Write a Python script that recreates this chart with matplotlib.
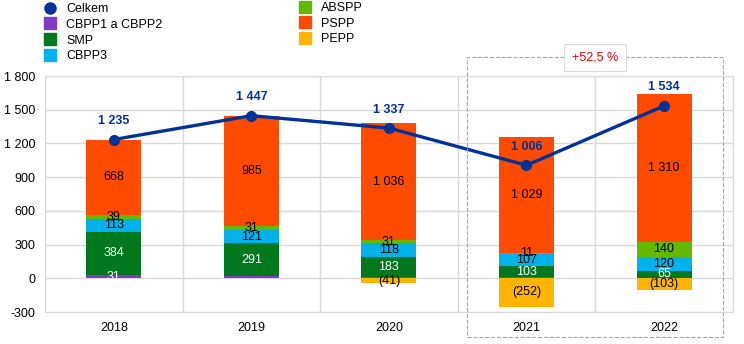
import numpy as np
import matplotlib.pyplot as plt
from matplotlib.lines import Line2D
from matplotlib.patches import Rectangle

plt.rcParams['font.family'] = ['Liberation Sans', 'DejaVu Sans']
plt.rcParams['font.size'] = 9

years = ['2018', '2019', '2020', '2021', '2022']
cbpp12 = [31, 19, 10, 8, 2]
smp = [384, 291, 183, 103, 65]
cbpp3 = [113, 121, 118, 107, 120]
abspp = [39, 31, 31, 11, 140]
pspp = [668, 985, 1036, 1029, 1310]
pepp = [0, 0, -41, -252, -103]
celkem = [1235, 1447, 1337, 1006, 1534]

# which segments get a label
show12 = [True, False, False, False, False]

c_tot = '#003299'
c_12 = '#8139c6'
c_smp = '#00781e'
c_cb3 = '#00b1ea'
c_abs = '#65b800'
c_psp = '#ff4b00'
c_pep = '#ffb400'


def fmt(v):
    s = f'{abs(v):,}'.replace(',', ' ')
    return f'({s})' if v < 0 else s


fig = plt.figure(figsize=(7.44, 3.44), dpi=100)
ax = fig.add_axes([0.0605, 0.093, 0.9245, 0.686])

x = np.arange(len(years))
w = 0.4
series = [(cbpp12, c_12, 'white'), (smp, c_smp, 'white'), (cbpp3, c_cb3, 'black'),
          (abspp, c_abs, 'black'), (pspp, c_psp, 'black')]
bottom = np.zeros(len(years))
for k, (vals, col, tcol) in enumerate(series):
    vals = np.array(vals, dtype=float)
    ax.bar(x, vals, w, bottom=bottom, color=col, zorder=2)
    for i in range(len(years)):
        if k == 0 and not show12[i]:
            continue
        ax.text(x[i], bottom[i] + vals[i] / 2, fmt(int(vals[i])), ha='center', va='center',
                color=tcol, fontsize=9, zorder=4)
    bottom += vals

ax.bar(x, pepp, w, color=c_pep, zorder=2)
for i, v in enumerate(pepp):
    if v < 0:
        ax.text(x[i], v / 2 if v < -60 else -22, fmt(v), ha='center', va='center', fontsize=9, zorder=4)

ax.plot(x, celkem, color=c_tot, lw=2.4, marker='o', ms=7, zorder=5)
for i, v in enumerate(celkem):
    ax.annotate(fmt(v), (x[i], v), xytext=(0, 9), textcoords='offset points', ha='center',
                va='bottom', color=c_tot, fontweight='bold', fontsize=9, zorder=6)

ax.set_xlim(-0.5, len(years) - 0.5)
ax.set_ylim(-300, 1800)
ax.set_yticks(np.arange(-300, 1801, 300))
ax.set_yticklabels([fmt(t) if t >= 0 else f'-{abs(t)}' for t in range(-300, 1801, 300)])
ax.set_xticks(x)
ax.set_xticklabels(years)
ax.set_xticks(np.arange(-0.5, len(years), 1), minor=True)
ax.grid(axis='y', color='#d9d9d9', lw=1, zorder=0)
ax.grid(axis='x', which='minor', color='#d9d9d9', lw=1, zorder=0)
ax.tick_params(length=0, which='both', pad=7)
for s in ax.spines.values():
    s.set_color('#d9d9d9')

# highlight box
fig.add_artist(Rectangle((467 / 744, 1 - 337 / 344), 256 / 744, 280 / 344, transform=fig.transFigure,
                         fill=False, ec='#a6a6a6', ls='--', lw=0.8))
fig.text(595 / 744, 1 - 57 / 344, '+52,5 %', color='#e00000', ha='center', va='center', fontsize=9,
         bbox=dict(boxstyle='square,pad=0.6', fc='white', ec='#d9d9d9', lw=0.8))

h1 = [Line2D([], [], ls='', marker='o', ms=8, color=c_tot),
      Line2D([], [], ls='', marker='s', ms=8, color=c_12),
      Line2D([], [], ls='', marker='s', ms=8, color=c_smp),
      Line2D([], [], ls='', marker='s', ms=8, color=c_cb3)]
h2 = [Line2D([], [], ls='', marker='s', ms=8, color=c_abs),
      Line2D([], [], ls='', marker='s', ms=8, color=c_psp),
      Line2D([], [], ls='', marker='s', ms=8, color=c_pep)]
leg1 = fig.legend(h1, ['Celkem', 'CBPP1 a CBPP2', 'SMP', 'CBPP3'], loc='upper left',
                  bbox_to_anchor=(30 / 744, 1.013), frameon=False, handletextpad=0.3,
                  labelspacing=0.3, borderpad=0.1, fontsize=9)
leg2 = fig.legend(h2, ['ABSPP', 'PSPP', 'PEPP'], loc='upper left',
                  bbox_to_anchor=(285 / 744, 1.016), frameon=False, handletextpad=0.3,
                  labelspacing=0.3, borderpad=0.1, fontsize=9)

fig.savefig('out.png', dpi=100)
